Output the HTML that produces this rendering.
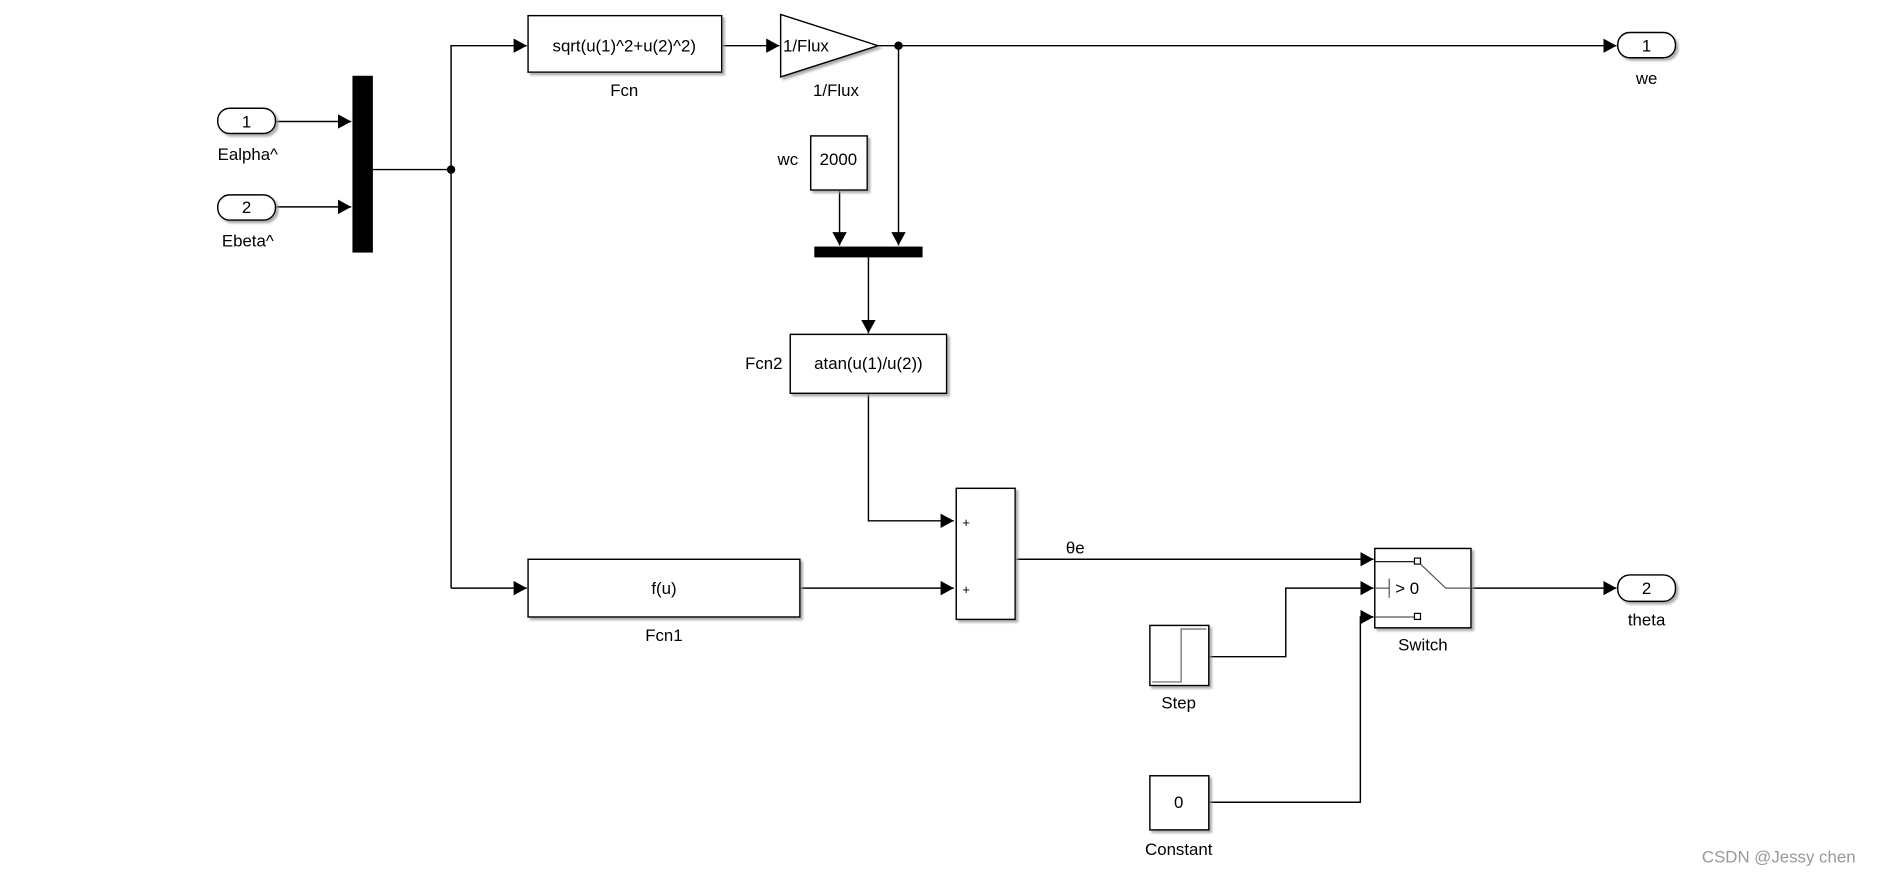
<!DOCTYPE html>
<html><head><meta charset="utf-8"><style>
html,body{margin:0;padding:0;background:#fff;}
svg{display:block;}
text{font-family:"Liberation Sans",Arial,sans-serif;font-size:14px;fill:#000;}
</style></head><body>
<svg width="1886" height="878" viewBox="0 0 1568 730" xmlns="http://www.w3.org/2000/svg">
<defs>
<marker id="a" markerWidth="12" markerHeight="12" refX="11" refY="6" orient="auto" markerUnits="userSpaceOnUse">
<path d="M0,0 L11,6 L0,12 Z" fill="#000"/></marker>
<filter id="s" x="-10%" y="-10%" width="130%" height="130%"><feDropShadow dx="2" dy="2" stdDeviation="0.8" flood-color="#999" flood-opacity="0.8"/></filter>
</defs>
<rect width="1568" height="730" fill="#fff"/>
<g fill="none" stroke="#000" stroke-width="1.2">
<!-- inports -->
<line x1="229" y1="101" x2="292" y2="101" marker-end="url(#a)"/>
<line x1="229" y1="172" x2="292" y2="172" marker-end="url(#a)"/>
<!-- mux out -->
<polyline points="310,141 375,141"/>
<polyline points="375,489 375,38 438,38" marker-end="url(#a)"/>
<line x1="375" y1="489" x2="438" y2="489" marker-end="url(#a)"/>
<line x1="600" y1="38" x2="648" y2="38" marker-end="url(#a)"/>
<line x1="730" y1="38" x2="1344" y2="38" marker-end="url(#a)"/>
<line x1="747" y1="38" x2="747" y2="204" marker-end="url(#a)"/>
<line x1="698" y1="158" x2="698" y2="204" marker-end="url(#a)"/>
<line x1="722" y1="214" x2="722" y2="277" marker-end="url(#a)"/>
<polyline points="722,327 722,433 793,433" marker-end="url(#a)"/>
<line x1="665" y1="489" x2="793" y2="489" marker-end="url(#a)"/>
<line x1="844" y1="465" x2="1142" y2="465" marker-end="url(#a)"/>
<polyline points="1005,546 1069,546 1069,489 1142,489" marker-end="url(#a)"/>
<polyline points="1005,667 1131,667 1131,513 1142,513" marker-end="url(#a)"/>
<line x1="1223" y1="489" x2="1344" y2="489" marker-end="url(#a)"/>
</g>
<circle cx="375" cy="141" r="3.5"/>
<circle cx="747" cy="38" r="3.5"/>
<!-- blocks -->
<g fill="#fff" stroke="#000" stroke-width="1.2" filter="url(#s)">
<rect x="181" y="90" width="48" height="21" rx="10"/>
<rect x="181" y="162" width="48" height="21" rx="10"/>
<rect x="1345" y="27" width="48" height="21" rx="10"/>
<rect x="1345" y="478" width="48" height="22" rx="10"/>
<rect x="439" y="13" width="161" height="47"/>
<path d="M649,12 L730,38 L649,64 Z"/>
<rect x="674" y="113" width="47" height="45"/>
<rect x="657" y="278" width="130" height="49"/>
<rect x="795" y="406" width="49" height="109"/>
<rect x="439" y="465" width="226" height="48"/>
<rect x="1143" y="456" width="80" height="66"/>
<rect x="956" y="520" width="49" height="50"/>
<rect x="956" y="645" width="49" height="45"/>
</g>
<rect x="293" y="63" width="17" height="147" fill="#000"/>
<rect x="677" y="205" width="90" height="9" fill="#000"/>
<!-- switch internals -->
<g fill="none" stroke="#000" stroke-width="1">
<line x1="1143" y1="467" x2="1176" y2="467"/>
<rect x="1176" y="464" width="5" height="5" fill="#fff"/>
<polyline points="1181,469 1202,489 1223,489" stroke="#555"/>
<line x1="1143" y1="489" x2="1155" y2="489" stroke="#555"/>
<line x1="1155" y1="481" x2="1155" y2="497" stroke="#555"/>
<line x1="1143" y1="513" x2="1176" y2="513" stroke="#555"/>
<rect x="1176" y="510" width="5" height="5" fill="#fff"/>
<polyline points="958,567 982,567 982,523 1003,523" stroke="#666"/>
</g>
<!-- text -->
<g text-anchor="middle">
<text x="205" y="106">1</text>
<text x="205" y="177">2</text>
<text x="1369" y="43">1</text>
<text x="1369" y="494">2</text>
<text x="206" y="133">Ealpha^</text>
<text x="206" y="205">Ebeta^</text>
<text x="1369" y="70">we</text>
<text x="1369" y="520">theta</text>
<text x="519" y="43">sqrt(u(1)^2+u(2)^2)</text>
<text x="519" y="80">Fcn</text>
<text x="695" y="80">1/Flux</text>
<text x="697" y="137">2000</text>
<text x="655" y="137">wc</text>
<text x="722" y="307">atan(u(1)/u(2))</text>
<text x="635" y="307">Fcn2</text>
<text x="552" y="494">f(u)</text>
<text x="552" y="533">Fcn1</text>
<text x="894" y="460">θe</text>
<text x="1183" y="541">Switch</text>
<text x="980" y="589">Step</text>
<text x="980" y="672">0</text>
<text x="980" y="711">Constant</text>
</g>
<text x="651" y="43">1/Flux</text>
<text x="1160" y="494">&gt; 0</text>
<text x="800" y="438" style="font-size:11px">+</text>
<text x="800" y="494" style="font-size:11px">+</text>
<text x="1415" y="717" style="fill:#999;font-size:14px">CSDN @Jessy  chen</text>
</svg>
</body></html>
